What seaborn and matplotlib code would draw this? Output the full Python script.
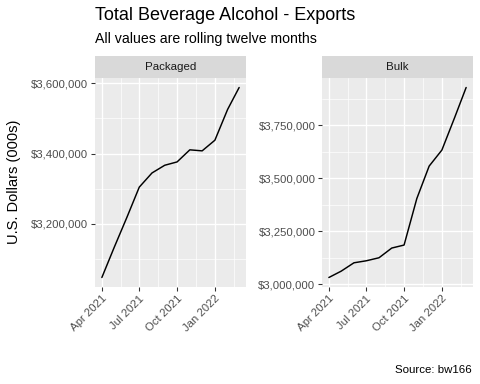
import numpy as np
import pandas as pd
import matplotlib
matplotlib.use('Agg')
import matplotlib.pyplot as plt
import matplotlib.dates as mdates
from matplotlib.ticker import FuncFormatter, FixedLocator
import seaborn as sns

# data (rolling twelve months, thousands of dollars)
months = pd.date_range('2021-04-01', '2022-03-01', freq='MS')
packaged = [3046000, 3132000, 3218000, 3304000, 3344500, 3366500,
            3376000, 3410500, 3407600, 3438000, 3526000, 3588500]
bulk = [3031600, 3061600, 3101000, 3110500, 3124800, 3170600,
        3184800, 3404300, 3557500, 3633300, 3786500, 3928600]
panels = ['Packaged', 'Bulk']
packaged_breaks = [3200000, 3400000, 3600000]
bulk_breaks = [3000000, 3250000, 3500000, 3750000]
date_breaks = pd.to_datetime(['2021-04-01', '2021-07-01', '2021-10-01', '2022-01-01'])

df = pd.DataFrame({
    'month': list(months) * 2,
    'value': packaged + bulk,
    'type': ['Packaged'] * 12 + ['Bulk'] * 12,
})

sns.set_theme(style='darkgrid', rc={
    'axes.facecolor': '#EBEBEB',
    'grid.color': 'white',
})
plt.rcParams['font.family'] = ['Liberation Sans', 'DejaVu Sans']

W, H = 480, 384
fig = plt.figure(figsize=(W / 96, H / 96), dpi=96)


def px_axes(x0, y0, x1, y1):
    return fig.add_axes([x0 / W, 1 - y1 / H, (x1 - x0) / W, (y1 - y0) / H])


dollar = FuncFormatter(lambda v, p: f'${v:,.0f}')

boxes = {'Packaged': (95, 246), 'Bulk': (322, 473)}
breaks = {'Packaged': packaged_breaks, 'Bulk': bulk_breaks}

xnum = mdates.date2num(months)
xpad = (xnum[-1] - xnum[0]) * 0.05
major_x = mdates.date2num(date_breaks)
minor_x = (major_x[:-1] + major_x[1:]) / 2
minor_x = list(minor_x) + [major_x[-1] + (major_x[-1] - major_x[-2]) / 2]

for name in panels:
    x0, x1 = boxes[name]
    ax = px_axes(x0, 78, x1, 287)
    sub = df[df['type'] == name]
    sns.lineplot(data=sub, x='month', y='value', ax=ax, color='black', linewidth=1.1)
    vals = sub['value']
    ypad = (vals.max() - vals.min()) * 0.05
    ax.set_ylim(vals.min() - ypad, vals.max() + ypad)
    ax.set_xlim(xnum[0] - xpad, xnum[-1] + xpad)

    b = breaks[name]
    step = b[1] - b[0]
    ax.yaxis.set_major_locator(FixedLocator(b))
    ax.yaxis.set_minor_locator(FixedLocator([v + step / 2 for v in [b[0] - step] + b]))
    ax.yaxis.set_major_formatter(dollar)
    ax.xaxis.set_major_locator(FixedLocator(major_x))
    ax.xaxis.set_minor_locator(FixedLocator(minor_x))
    ax.xaxis.set_major_formatter(mdates.DateFormatter('%b %Y'))

    ax.grid(which='major', color='white', linewidth=1.0)
    ax.grid(which='minor', color='white', linewidth=0.5)
    for s in ax.spines.values():
        s.set_visible(False)
    ax.tick_params(axis='both', which='major', length=2.75, width=0.8, color='#333333',
                   labelsize=8.5, labelcolor='#4D4D4D', pad=2.2, left=True, bottom=True)
    ax.tick_params(axis='both', which='minor', length=0)
    for lab in ax.get_xticklabels():
        lab.set_rotation(45)
        lab.set_ha('right')
        lab.set_rotation_mode('anchor')
    ax.set_xlabel('')
    ax.set_ylabel('')

    # facet strip
    sax = px_axes(x0, 56, x1, 78)
    sax.set_facecolor('#D9D9D9')
    sax.set_xticks([])
    sax.set_yticks([])
    for s in sax.spines.values():
        s.set_visible(False)
    sax.text(0.5, 0.5, name, ha='center', va='center', fontsize=8.6,
             color='#1A1A1A', transform=sax.transAxes)

fig.text(95 / W, 1 - 20 / H, 'Total Beverage Alcohol - Exports', fontsize=13.5,
         ha='left', va='baseline', color='black')
fig.text(95 / W, 1 - 43.5 / H, 'All values are rolling twelve months', fontsize=10.6,
         ha='left', va='baseline', color='black')
fig.text(14 / W, 1 - 182 / H, 'U.S. Dollars (000s)', fontsize=11, rotation=90,
         ha='center', va='center', color='black')
fig.text(472 / W, 1 - 373 / H, 'Source: bw166', fontsize=8.6,
         ha='right', va='baseline', color='black')

fig.savefig('out.png', dpi=96)
